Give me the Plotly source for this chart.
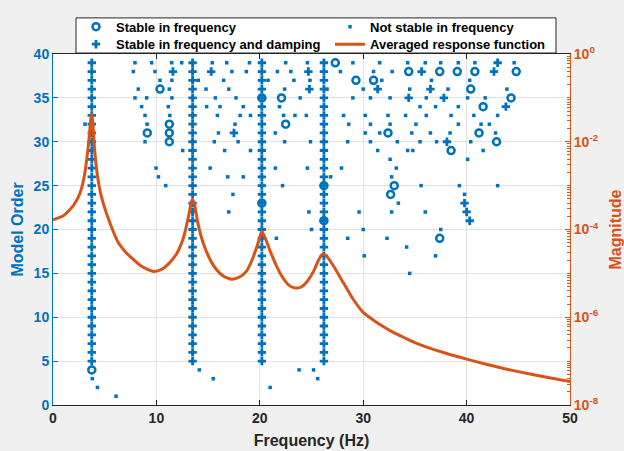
import plotly.graph_objects as go

BLUE = "#0072BD"
ORANGE = "#D95319"
DARK = "#262626"

# ---------------- data ----------------
x_ticks = [0, 10, 20, 30, 40, 50]
y_ticks = [0, 5, 10, 15, 20, 25, 30, 35, 40]
mag_tickvals = [1e-8, 1e-6, 1e-4, 1e-2, 1]
mag_ticktext = ["10<sup>-8</sup>", "10<sup>-6</sup>", "10<sup>-4</sup>", "10<sup>-2</sup>", "10<sup>0</sup>"]

# Stable in frequency and damping: four vertical columns of poles
column_freqs = [3.75, 13.5, 20.2, 26.2]
column_orders = [5, 6, 7, 8, 9, 10, 11, 12, 13, 14, 15, 16, 17, 18, 19, 20, 21, 22,
                 23, 24, 25, 26, 27, 28, 29, 30, 31, 32, 33, 34, 35, 36, 37, 38, 39]
# plus isolated ones
sfd_extra_freq = [11.6, 15.3, 24.7, 24.8, 31.4, 17.5, 35.65, 42.65, 43.0, 36.5,
                  34.4, 37.8, 43.8, 38.1, 39.8, 40.0, 40.3]
sfd_extra_order = [38, 38, 38, 36, 36, 31, 38, 38, 39, 36,
                   35, 35, 34, 30, 23, 22, 21]

# Stable in frequency (open circles)
sf_freq = [3.75, 10.35, 9.12, 11.25, 11.25, 11.25, 22.1, 22.5, 27.3, 29.3,
           31.0, 32.4, 34.4, 37.4, 39.1, 40.8, 44.8, 40.4, 44.3, 41.6,
           41.2, 42.9, 38.5, 33.0, 32.65, 37.4, 20.2, 20.2, 26.2, 26.2]
sf_order = [4, 36, 31, 32, 31, 30, 35, 32, 39, 37,
            37, 31, 38, 38, 38, 38, 38, 36, 35, 34,
            31, 30, 29, 25, 24, 19, 35, 23, 25, 21]

# Not stable in frequency (dots)
ns_freq = [
    7.93, 9.54, 11.48, 12.45, 15.4, 16.8, 19.0, 22.5, 24.6, 29.0, 31.6, 34.3, 36.0, 37.5, 39.2, 40.8, 44.6,
    7.77, 9.86, 17.3, 18.7, 21.7, 23.0, 27.8, 31.0, 32.8,
    10.35, 11.5, 14.05, 16.5, 20.8, 23.3, 24.85, 31.8, 36.6, 40.3,
    8.25, 11.25, 14.8, 17.0, 22.4, 26.5, 30.0, 34.5, 38.2, 43.9,
    7.93, 9.06, 11.5, 15.7, 17.7, 23.9, 29.0, 30.7, 32.6, 36.1, 40.1, 41.8,
    8.57, 11.15, 14.86, 16.15, 18.4, 21.9, 35.5, 37.0, 39.2,
    8.9, 11.3, 15.9, 18.1, 19.1, 22.3, 23.4, 24.5, 28.1, 30.2, 32.4, 34.1, 36.1, 38.5, 40.7, 43.0,
    3.1, 9.1, 17.6, 28.6, 30.7, 32.6, 35.1, 39.2, 41.4, 42.2,
    16.0, 21.5, 30.2, 31.6, 34.7, 36.5, 38.4, 42.8,
    8.9, 15.6, 17.9, 22.4, 24.9, 28.5, 30.7, 33.3, 35.5, 37.1, 40.4,
    12.54, 16.6, 19.1, 31.4, 34.3, 34.8, 41.6,
    32.6, 40.1,
    9.96, 15.2, 21.5, 24.6, 27.9, 33.2,
    10.2, 16.9, 18.4, 26.85, 32.75,
    10.9, 22.2, 35.6, 39.3, 43.0,
    17.4, 39.8,
    33.4,
    17.0, 24.75, 29.6, 32.75, 36.0,
    25.0, 30.0, 37.5,
    21.6, 28.5, 32.3,
    34.2,
    30.1, 37.0,
    34.5,
    14.15, 23.8, 25.2,
    3.8, 15.5, 25.6,
    4.3, 21.0,
    6.1,
]
ns_order = [
    39, 39, 39, 39, 39, 39, 39, 39, 39, 39, 39, 39, 39, 39, 39, 39, 39,
    38, 38, 38, 38, 38, 38, 38, 38, 38,
    37, 37, 37, 37, 37, 37, 37, 37, 37, 37,
    36, 36, 36, 36, 36, 36, 36, 36, 36, 36,
    35, 35, 35, 35, 35, 35, 35, 35, 35, 35, 35, 35,
    34, 34, 34, 34, 34, 34, 34, 34, 34,
    33, 33, 33, 33, 33, 33, 33, 33, 33, 33, 33, 33, 33, 33, 33, 33,
    32, 32, 32, 32, 32, 32, 32, 32, 32, 32,
    31, 31, 31, 31, 31, 31, 31, 31,
    30, 30, 30, 30, 30, 30, 30, 30, 30, 30, 30,
    29, 29, 29, 29, 29, 29, 29,
    28, 28,
    27, 27, 27, 27, 27, 27,
    26, 26, 26, 26, 26,
    25, 25, 25, 25, 25,
    24, 24,
    23,
    22, 22, 22, 22, 22,
    20, 20, 20,
    19, 19, 19,
    18,
    17, 17,
    15,
    4, 4, 4,
    3, 3, 3,
    2, 2,
    1,
]

# Averaged response function
curve_freq = [0.0, 1.0, 2.0, 2.6, 3.0, 3.3, 3.5, 3.65, 3.75, 3.85, 4.0, 4.3, 4.7,
              5.5, 6.3, 7.1, 7.8, 8.6, 9.7, 10.5, 11.2, 12.0, 12.6, 13.1, 13.35,
              13.5, 13.7, 14.0, 14.5, 15.2, 15.8, 16.5, 17.3, 18.0, 18.7, 19.3,
              19.8, 20.2, 20.5, 21.0, 21.6, 22.2, 22.8, 23.4, 24.0, 24.6, 25.2,
              25.7, 26.1, 26.5, 27.1, 28.1, 29.0, 30.0, 31.0, 32.0, 33.0, 34.0,
              35.0, 36.0, 38.0, 40.0, 42.0, 44.0, 46.0, 48.0, 50.0]
curve_mag = [1.67e-4, 2.05e-4, 3.6e-4, 6.64e-4, 1.51e-3, 4.64e-3, 1.29e-2, 3.24e-2,
             4.19e-2, 2.78e-2, 7.74e-3, 1.67e-3, 5.41e-4, 1.43e-4, 5.14e-5, 2.93e-5,
             2.05e-5, 1.43e-5, 1.11e-5, 1.23e-5, 1.67e-5, 2.93e-5, 6.31e-5, 1.95e-4,
             3.98e-4, 4.89e-4, 3.6e-4, 1.43e-4, 5.14e-5, 2.05e-5, 1.23e-5, 8.58e-6,
             7.36e-6, 8.15e-6, 1.11e-5, 2.15e-5, 4.64e-5, 9.03e-5, 6.64e-5, 3.24e-5,
             1.51e-5, 8.15e-6, 5.41e-6, 4.64e-6, 4.89e-6, 6.64e-6, 1.11e-5, 2.05e-5,
             2.78e-5, 2.39e-5, 1.51e-5, 6.0e-6, 2.64e-6, 1.29e-6, 8.58e-7, 6.0e-7,
             4.41e-7, 3.41e-7, 2.64e-7, 2.15e-7, 1.51e-7, 1.11e-7, 8.36e-8, 6.47e-8,
             5.14e-8, 4.19e-8, 3.41e-8]

# build stable-in-frequency-and-damping list
sfd_freq = []
sfd_order = []
for cf in column_freqs:
    for o in column_orders:
        sfd_freq.append(cf)
        sfd_order.append(o)
sfd_freq += sfd_extra_freq
sfd_order += sfd_extra_order

FONT = "Arial, 'Liberation Sans', Helvetica, sans-serif"

fig = go.Figure()
fig.add_trace(go.Scatter(
    x=sf_freq, y=sf_order, mode="markers", name="Stable in frequency", legend="legend",
    marker=dict(symbol="circle-open", size=7, color=BLUE, line=dict(width=2.5, color=BLUE))))
fig.add_trace(go.Scatter(
    x=ns_freq, y=ns_order, mode="markers", name="Not stable in frequency", legend="legend2",
    marker=dict(symbol="square", size=3.5, color=BLUE)))
fig.add_trace(go.Scatter(
    x=sfd_freq, y=sfd_order, mode="markers", name="Stable in frequency and damping", legend="legend3",
    marker=dict(symbol="cross", size=7, color=BLUE)))
fig.add_trace(go.Scatter(
    x=curve_freq, y=curve_mag, yaxis="y2", mode="lines", name="Averaged response function",
    legend="legend4", line=dict(color=ORANGE, width=3, shape="spline", smoothing=0.6)))

leg_font = dict(family=FONT, size=13, color="black", weight="bold")
def leg(x, y):
    return dict(x=x, y=y, xanchor="left", yanchor="middle", bgcolor="rgba(0,0,0,0)",
                borderwidth=0, font=leg_font)

fig.update_layout(
    width=624, height=451,
    margin=dict(l=53, r=54, t=45, b=46),
    paper_bgcolor="#f0f0f0", plot_bgcolor="white",
    font=dict(family=FONT, size=14, color=DARK, weight="bold"),
    showlegend=True,
    legend=leg(0.0445, 1.0778),
    legend2=leg(0.5358, 1.0778),
    legend3=leg(0.0445, 1.0278),
    legend4=leg(0.5358, 1.0278),
    shapes=[dict(type="rect", xref="paper", yref="paper", x0=0.0445, x1=0.9729,
                 y0=1.0028, y1=1.1028, fillcolor="white", line=dict(color=DARK, width=1),
                 layer="above")],
    xaxis=dict(range=[0, 50], tickvals=x_ticks, ticks="inside", ticklen=5, tickcolor=DARK,
               showline=True, linecolor=DARK, linewidth=1, mirror="ticks",
               showgrid=True, gridcolor="#e3e3e3", zeroline=False, automargin=False,
               tickfont=dict(color=DARK, size=14),
               title=dict(text="Frequency (Hz)", font=dict(size=16, color=DARK), standoff=10)),
    yaxis=dict(range=[0, 40], tickvals=y_ticks, ticks="inside", ticklen=5, tickcolor=BLUE,
               showline=True, linecolor=BLUE, linewidth=1, automargin=False,
               showgrid=True, gridcolor="#e3e3e3", zeroline=False,
               tickfont=dict(color=BLUE, size=14),
               title=dict(text="Model Order", font=dict(size=16, color=BLUE), standoff=6)),
    yaxis2=dict(type="log", range=[-8, 0], overlaying="y", side="right",
                tickvals=mag_tickvals, ticktext=mag_ticktext, automargin=False,
                ticks="inside", ticklen=5, tickcolor=ORANGE,
                minor=dict(ticks="inside", ticklen=3, tickcolor=ORANGE, dtick="D1"),
                showline=True, linecolor=ORANGE, linewidth=1, showgrid=False, zeroline=False,
                tickfont=dict(color=ORANGE, size=14),
                title=dict(text="Magnitude", font=dict(size=16, color=ORANGE), standoff=14)),
)

fig.write_html("out.html")
